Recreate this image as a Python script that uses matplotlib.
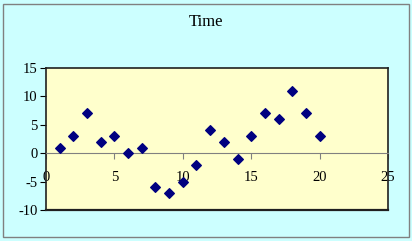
import matplotlib.pyplot as plt

# data
x_vals = [1, 2, 3, 4, 5, 6, 7, 8, 9, 10, 11, 12, 13, 14, 15, 16, 17, 18, 19, 20]
y_vals = [1, 3, 7, 2, 3, 0, 1, -6, -7, -5, -2, 4, 2, -1, 3, 7, 6, 11, 7, 3]
x_ticks = [0, 5, 10, 15, 20, 25]
y_ticks = [-10, -5, 0, 5, 10, 15]

plt.rcParams['font.family'] = ['Liberation Serif', 'DejaVu Serif']

fig = plt.figure(figsize=(4.12, 2.41), dpi=100)
fig.patch.set_facecolor('#CCFFFF')
# outer frame
fig.add_artist(plt.Rectangle((3 / 412, 4 / 241), 406 / 412, 233 / 241, transform=fig.transFigure,
                             fill=False, edgecolor='#808080', lw=1.0))

ax = fig.add_axes([46 / 412, 1 - 210 / 241, 342 / 412, 142 / 241])
ax.set_facecolor('#FFFFCC')
ax.scatter(x_vals, y_vals, marker='D', s=24, color='#000080', zorder=3)

ax.set_xlim(0, 25)
ax.set_ylim(-10, 15)
ax.set_yticks(y_ticks)
ax.set_yticklabels([str(v) for v in y_ticks], fontsize=10.5)
ax.tick_params(axis='y', direction='out', length=4, width=0.8, pad=2)

# x axis runs through y=0
ax.spines['bottom'].set_position(('data', 0))
ax.spines['bottom'].set_color('#808080')
ax.spines['bottom'].set_linewidth(0.8)
ax.set_xticks(x_ticks)
ax.set_xticklabels([str(v) for v in x_ticks], fontsize=10.5)
ax.tick_params(axis='x', direction='out', length=4, width=0.8, color='#808080', pad=9)

for s in ['top', 'right', 'left']:
    ax.spines[s].set_color('#202020')
    ax.spines[s].set_linewidth(1.2)
# frame bottom edge of plot area
ax.axhline(-10, color='#202020', lw=1.6, clip_on=False, zorder=4)

fig.text(206 / 412, 1 - 22 / 241, 'Time', ha='center', va='center', fontsize=12)

fig.savefig('out.png', dpi=100, facecolor=fig.get_facecolor())
